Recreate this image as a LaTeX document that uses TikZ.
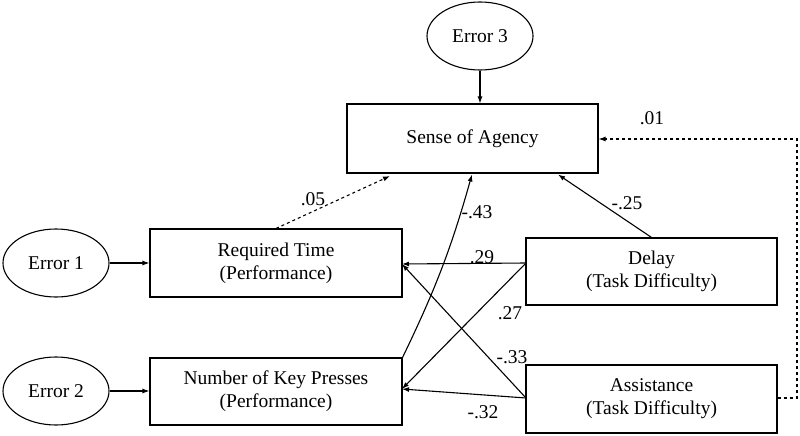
\documentclass[tikz,border=0pt]{standalone}
\usepackage{fontspec}
\setmainfont{Liberation Serif}
\usetikzlibrary{shapes.geometric,arrows.meta}
\begin{document}
\begin{tikzpicture}[x=1pt,y=-1pt,
  txt/.style={font=\rmfamily\fontsize{19.5}{23}\selectfont},
  box/.style={txt,draw,line width=1.1pt,align=center,inner sep=0pt},
  err/.style={txt,draw,ellipse,line width=1.1pt,minimum width=106pt,minimum height=68pt,inner sep=0pt},
  arr/.style={line width=1.1pt,-{Latex[length=7pt,width=5pt]}},
  lab/.style={txt,inner sep=0pt}]
\useasboundingbox (0,0) rectangle (800,436);
\node[err] (e3) at (480,36) {Error 3};
\node[box,minimum width=251pt,minimum height=69pt] (soa) at (472.5,138.5) {Sense of Agency};
\node[box,minimum width=252pt,minimum height=68pt] (rt) at (276,263) {Required Time\\(Performance)};
\node[box,minimum width=252pt,minimum height=67pt] (nkp) at (276,391.5) {Number of Key Presses\\(Performance)};
\node[err] (e1) at (56,263) {Error 1};
\node[err] (e2) at (56,391) {Error 2};
\node[box,minimum width=251pt,minimum height=67pt] (delay) at (651.5,271.5) {Delay\\(Task Difficulty)};
\node[box,minimum width=251pt,minimum height=68pt] (assist) at (651.5,399) {Assistance\\(Task Difficulty)};
\coordinate (a05) at (390,176);
\coordinate (a43) at (472,174.5);
\coordinate (a25) at (558,174.5);
\coordinate (dl) at (526,263);
\coordinate (al) at (526,398);
\coordinate (rtin) at (402,264);
\coordinate (nkpin) at (402,389);
\coordinate (c1) at (797,398);
\coordinate (c2) at (797,139);
\draw[arr] (e3.south) -- (e3.south |- soa.north);
\draw[arr] (e1.east) -- (rt.west);
\draw[arr] (e2.east) -- (e2.east -| nkp.west);
\draw[arr,dashed] (rt.north) -- (a05);
\draw[arr] (nkp.north east) to[bend right=5] (a43);
\draw[arr] (delay.north) -- (a25);
\draw[arr] (dl) -- (rtin);
\draw[arr] (dl) -- (nkpin);
\draw[arr] (al) -- (rtin);
\draw[arr] (al) -- (nkpin);
\draw[arr,dashed] (assist.east |- c1) -- (c1) -- (c2) -- (c2 -| soa.east);
\node[lab] (l05) at (313,199) {.05};
\node[lab] (l01) at (652,118) {.01};
\node[lab] (l43) at (477,212) {-.43};
\node[lab] (l25) at (627,203) {-.25};
\node[lab] (l29) at (482,257) {.29};
\node[lab] (l27) at (510,313) {.27};
\node[lab] (l33) at (512,357) {-.33};
\node[lab] (l32) at (483,412) {-.32};
\end{tikzpicture}
\end{document}
